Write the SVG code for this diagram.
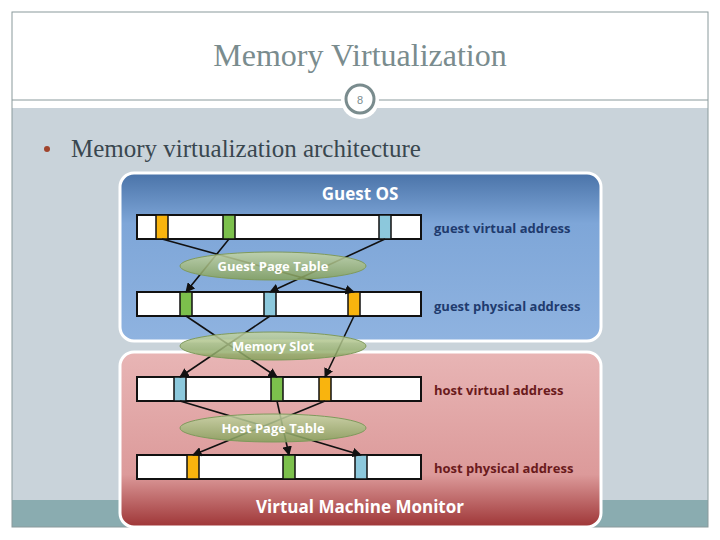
<svg xmlns="http://www.w3.org/2000/svg" width="720" height="540" viewBox="0 0 720 540">
<defs>
<linearGradient id="gb" x1="0" y1="0" x2="0" y2="1"><stop offset="0" stop-color="#4a73a8"/><stop offset="0.3" stop-color="#7ea6d8"/><stop offset="1" stop-color="#8fb3e0"/></linearGradient>
<linearGradient id="gr" x1="0" y1="0" x2="0" y2="1"><stop offset="0" stop-color="#e8b5b5"/><stop offset="0.7" stop-color="#dc9a9a"/><stop offset="1" stop-color="#9e3536"/></linearGradient>
<linearGradient id="ge" x1="0" y1="0" x2="0" y2="1"><stop offset="0" stop-color="#c6d6a6"/><stop offset="1" stop-color="#84a05a"/></linearGradient>
<marker id="ar" viewBox="0 0 10 10" refX="9" refY="5" markerWidth="6" markerHeight="6" orient="auto"><path d="M0,0 L10,5 L0,10 z" fill="#111"/></marker>
<style>
.bar{fill:#fff;stroke:#111;stroke-width:2}
.o{fill:#f9b40e;stroke:#111;stroke-width:1.5}
.g{fill:#7cc04c;stroke:#111;stroke-width:1.5}
.b{fill:#8cc8dc;stroke:#111;stroke-width:1.5}
.ln{stroke:#111;stroke-width:1.6;fill:none;marker-end:url(#ar)}
.el{fill:url(#ge);fill-opacity:0.85;stroke:#7f9a5c;stroke-width:1}
.et{font-family:"Open Sans",sans-serif;font-weight:bold;font-size:13px;fill:#fff;text-anchor:middle}
.lb{font-family:"Open Sans",sans-serif;font-weight:bold;font-size:13px}
.hd{font-family:"Open Sans",sans-serif;font-weight:bold;font-size:17px;fill:#fff;text-anchor:middle}
</style>
</defs>
<rect width="720" height="540" fill="#fff"/>
<rect x="12" y="108" width="696" height="392" fill="#c9d3da"/>
<rect x="12" y="500" width="696" height="27" fill="#8aacb0"/>
<rect x="12" y="12" width="696" height="515" fill="none" stroke="#8a9a9c" stroke-width="1"/>
<line x1="12" y1="100" x2="708" y2="100" stroke="#8a9a9c" stroke-width="1"/>
<text x="360" y="66" font-family="Liberation Serif, serif" font-size="32" fill="#7a8c8e" text-anchor="middle">Memory Virtualization</text>
<circle cx="360" cy="100" r="19" fill="#fff"/>
<circle cx="360" cy="99" r="14" fill="#fff" stroke="#7a8c8e" stroke-width="3"/>
<text x="360" y="104" font-family="Liberation Sans, sans-serif" font-size="11" fill="#7a8c8e" text-anchor="middle">8</text>
<circle cx="47" cy="149" r="3" fill="#a0442c"/>
<text x="71" y="157" font-family="Liberation Serif, serif" font-size="25" fill="#39474f">Memory virtualization architecture</text>

<g id="guest-os">
<rect x="120" y="173" width="481" height="168" rx="14" fill="url(#gb)" stroke="#fff" stroke-width="3"/>
<text class="hd" x="360" y="200">Guest OS</text>
</g>
<g id="vmm">
<rect x="120" y="352" width="481" height="175" rx="14" fill="url(#gr)" stroke="#fff" stroke-width="3"/>
<text class="hd" x="360" y="513">Virtual Machine Monitor</text>
</g>

<g id="guest-virtual">
<rect class="bar" x="137" y="215" width="284" height="24"/>
<rect class="o" x="156" y="215" width="12" height="24"/><rect class="g" x="223" y="215" width="12" height="24"/><rect class="b" x="379" y="215" width="12" height="24"/>
<text class="lb" x="434" y="233" fill="#1f3b6e">guest virtual address</text>
</g>
<g id="guest-physical">
<rect class="bar" x="137" y="292" width="284" height="24"/>
<rect class="g" x="180" y="292" width="12" height="24"/><rect class="b" x="264" y="292" width="12" height="24"/><rect class="o" x="348" y="292" width="12" height="24"/>
<text class="lb" x="434" y="311" fill="#1f3b6e">guest physical address</text>
</g>
<g id="host-virtual">
<rect class="bar" x="137" y="377" width="284" height="24"/>
<rect class="b" x="174" y="377" width="12" height="24"/><rect class="g" x="271" y="377" width="12" height="24"/><rect class="o" x="319" y="377" width="12" height="24"/>
<text class="lb" x="434" y="395" fill="#6a1a1c">host virtual address</text>
</g>
<g id="host-physical">
<rect class="bar" x="137" y="455" width="284" height="24"/>
<rect class="o" x="187" y="455" width="12" height="24"/><rect class="g" x="283" y="455" width="12" height="24"/><rect class="b" x="355" y="455" width="12" height="24"/>
<text class="lb" x="434" y="473" fill="#6a1a1c">host physical address</text>
</g>

<g id="connectors">
<line class="ln" x1="162" y1="239" x2="354" y2="292"/>
<line class="ln" x1="229" y1="239" x2="186" y2="292"/>
<line class="ln" x1="385" y1="239" x2="270" y2="292"/>
<line class="ln" x1="186" y1="316" x2="277" y2="377"/>
<line class="ln" x1="270" y1="316" x2="180" y2="377"/>
<line class="ln" x1="354" y1="316" x2="325" y2="377"/>
<line class="ln" x1="180" y1="401" x2="361" y2="455"/>
<line class="ln" x1="277" y1="401" x2="289" y2="455"/>
<line class="ln" x1="325" y1="401" x2="193" y2="455"/>
</g>

<g id="guest-page-table"><ellipse class="el" cx="273" cy="266" rx="93" ry="14"/><text class="et" x="273" y="271">Guest Page Table</text></g>
<g id="memory-slot"><ellipse class="el" cx="273" cy="346" rx="93" ry="14"/><text class="et" x="273" y="351">Memory Slot</text></g>
<g id="host-page-table"><ellipse class="el" cx="273" cy="428" rx="93" ry="14"/><text class="et" x="273" y="433">Host Page Table</text></g>
</svg>
